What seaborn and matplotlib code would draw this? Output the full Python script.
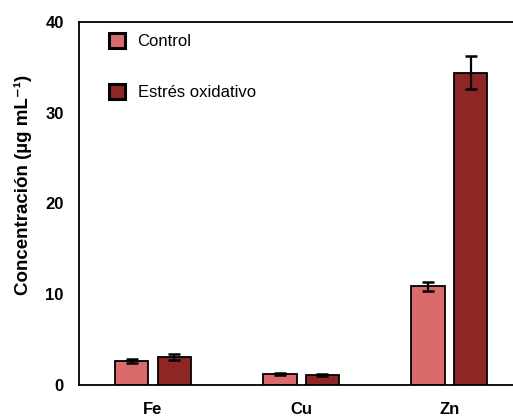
import matplotlib
matplotlib.use("Agg")
import matplotlib.pyplot as plt
import seaborn as sns
import pandas as pd
import numpy as np

elements = ["Fe", "Cu", "Zn"]
groups = ["Control", "Estrés oxidativo"]
control_vals = [2.65, 1.2, 10.9]
stress_vals = [3.1, 1.1, 34.4]
control_err = [0.2, 0.15, 0.5]
stress_err = [0.35, 0.15, 1.8]
colors = ["#D96B6B", "#8E2626"]

sns.set_theme(style="white")
plt.rcParams['font.family'] = ['Liberation Sans', 'DejaVu Sans']
plt.rcParams['text.color'] = 'black'
plt.rcParams['axes.labelcolor'] = 'black'
plt.rcParams['xtick.color'] = 'black'
plt.rcParams['ytick.color'] = 'black'

df = pd.DataFrame({
    "Elemento": elements * 2,
    "Grupo": [groups[0]] * 3 + [groups[1]] * 3,
    "Valor": control_vals + stress_vals,
})

fig = plt.figure(figsize=(5.13, 4.18), dpi=100)
ax = fig.add_axes([79/513, 1 - 385/418, 1 - 79/513, (385 - 22)/418])

sns.barplot(data=df, x="Elemento", y="Valor", hue="Grupo", order=elements,
            hue_order=groups, palette=colors, errorbar=None, width=0.574,
            gap=0.22, edgecolor="black", linewidth=1.3, ax=ax, saturation=1)

errs = {groups[0]: control_err, groups[1]: stress_err}
vals = {groups[0]: control_vals, groups[1]: stress_vals}
for container, g in zip(ax.containers, groups):
    xs = [p.get_x() + p.get_width() / 2 for p in container.patches]
    ax.errorbar(xs, vals[g], yerr=errs[g], fmt="none", ecolor="black",
                elinewidth=1.6, capsize=4.5, capthick=1.8, zorder=5)

ax.set_xlim(-0.5, 2.43)
ax.set_ylim(0, 40)
ax.set_yticks([0, 10, 20, 30, 40])
ax.set_xlabel("")
ax.set_ylabel("Concentración (µg mL⁻¹)", fontsize=13.5, fontweight="bold", color="black")
ax.yaxis.set_label_coords(-0.108, 0.551)
ax.spines["right"].set_visible(False)
for s in ["left", "bottom", "top"]:
    ax.spines[s].set_color("black")
    ax.spines[s].set_linewidth(1.3)
ax.tick_params(axis="y", direction="out", length=4, width=1.2, colors="black", labelsize=12, pad=7)
ax.tick_params(axis="x", length=0, labelsize=12, pad=12, colors="black")
for lbl in ax.get_yticklabels() + ax.get_xticklabels():
    lbl.set_fontweight("bold")

leg = ax.legend(loc="upper left", bbox_to_anchor=(0.035, 1.01), frameon=False,
                fontsize=12, labelspacing=2.1, handlelength=0.95, handleheight=0.95,
                handletextpad=0.75)
for h in leg.legend_handles:
    h.set_linewidth(2.2)
    h.set_edgecolor("black")

fig.savefig("out.png", dpi=100)
